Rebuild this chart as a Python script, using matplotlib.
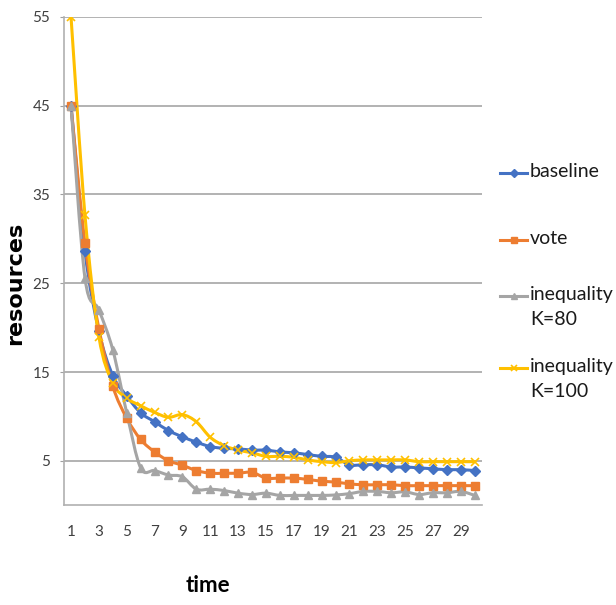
import matplotlib
matplotlib.use("Agg")
import matplotlib.pyplot as plt
from matplotlib.path import Path
from matplotlib.patches import PathPatch
from matplotlib.lines import Line2D

plt.rcParams['font.family'] = ['Lato', 'DejaVu Sans']

time = list(range(1, 31))
baseline = [45, 28.6, 19.6, 14.6, 12.3, 10.4, 9.4, 8.4, 7.7, 7.1,
            6.6, 6.4, 6.35, 6.2, 6.2, 6.0, 5.9, 5.7, 5.5, 5.4,
            4.55, 4.55, 4.55, 4.3, 4.3, 4.2, 4.1, 4.0, 4.0, 3.9]
vote = [45, 29.5, 19.9, 13.4, 9.8, 7.4, 6.0, 5.0, 4.5, 3.9,
        3.6, 3.6, 3.6, 3.7, 3.05, 3.05, 3.05, 2.9, 2.7, 2.6,
        2.4, 2.3, 2.3, 2.3, 2.2, 2.2, 2.2, 2.2, 2.2, 2.2]
ineq80 = [45, 25.6, 22.0, 17.5, 10.4, 4.2, 3.9, 3.4, 3.2, 1.8,
          1.8, 1.65, 1.35, 1.2, 1.35, 1.1, 1.1, 1.1, 1.1, 1.15,
          1.3, 1.55, 1.55, 1.4, 1.5, 1.2, 1.4, 1.4, 1.55, 1.1]
ineq100 = [55, 32.7, 19.0, 13.75, 12.05, 11.2, 10.45, 9.9, 10.2, 9.4,
           7.65, 6.7, 6.2, 5.9, 5.5, 5.5, 5.4, 5.1, 4.9, 4.8,
           5.0, 5.1, 5.1, 5.1, 5.1, 4.9, 4.9, 4.9, 4.9, 4.9]
series_labels = ["baseline", "vote", "inequality\nK=80", "inequality\nK=100"]
yticks = [5, 15, 25, 35, 45, 55]
xticks = list(range(1, 31, 2))

fig = plt.figure(figsize=(6.16, 6.05), dpi=100)
ax = fig.add_axes([0.104, 0.165, 0.678, 0.807])


def smooth_path(xs, ys):
    # Excel-style smoothed line: cubic Bezier segments through the points
    pts = list(zip(xs, ys))
    verts = [pts[0]]
    codes = [Path.MOVETO]
    n = len(pts)
    for i in range(n - 1):
        p0 = pts[i - 1] if i > 0 else pts[i]
        p1 = pts[i]
        p2 = pts[i + 1]
        p3 = pts[i + 2] if i + 2 < n else pts[i + 1]
        c1 = (p1[0] + (p2[0] - p0[0]) / 6, p1[1] + (p2[1] - p0[1]) / 6)
        c2 = (p2[0] - (p3[0] - p1[0]) / 6, p2[1] - (p3[1] - p1[1]) / 6)
        verts += [c1, c2, p2]
        codes += [Path.CURVE4] * 3
    return Path(verts, codes)


styles = [
    dict(color="#4472C4", marker="D", ms=5),
    dict(color="#ED7D31", marker="s", ms=5.5),
    dict(color="#A5A5A5", marker="^", ms=6),
    dict(color="#FFC000", marker="x", ms=5.5, mew=1.2),
]
all_series = [baseline, vote, ineq80, ineq100]
for data, st in zip(all_series, styles):
    ax.add_patch(PathPatch(smooth_path(time, data), fill=False,
                           edgecolor=st["color"], lw=2.2, capstyle="round",
                           joinstyle="round"))
    ax.plot(time, data, ls="none", mec=st["color"], mfc=st["color"],
            marker=st["marker"], ms=st["ms"], mew=st.get("mew", 1))

ax.set_xlim(0.5, 30.5)
ax.set_ylim(0, 55)
ax.set_yticks(yticks)
ax.set_xticks(xticks)
ax.tick_params(axis='x', labelsize=11, labelcolor="#404040", length=0, pad=14)
ax.tick_params(axis='y', labelsize=11, labelcolor="#404040", length=3,
               color="#A0A0A0", pad=7)
ax.grid(axis='y', color="#A6A6A6", lw=1.2)
ax.set_axisbelow(True)
for s in ["top", "right"]:
    ax.spines[s].set_visible(False)
for s in ["left", "bottom"]:
    ax.spines[s].set_color("#B0B0B0")
    ax.spines[s].set_linewidth(1.2)

fig.text(0.025, 0.532, "resources", rotation=90, ha="center", va="center",
         fontsize=16, fontweight="bold", family=["DejaVu Sans"])
fig.text(0.337, 0.033, "time", ha="center", va="center", fontsize=16,
         fontweight="bold")

# legend, drawn entry by entry
W, H = 616, 605
legend_y = [173, 240, 296, 368]
for lab, st, yy in zip(series_labels, styles, legend_y):
    yf = 1 - yy / H
    fig.add_artist(Line2D([500 / W, 527 / W], [yf, yf], color=st["color"],
                          lw=2.2, transform=fig.transFigure))
    fig.add_artist(Line2D([513.5 / W], [yf], color=st["color"], ls="none",
                          marker=st["marker"], ms=st["ms"] * 0.8,
                          mew=st.get("mew", 1), transform=fig.transFigure))
    fig.text(530 / W, yf, lab, ha="left", va="top", fontsize=14,
             linespacing=1.55, color="#1a1a1a",
             transform=fig.transFigure).set_y(yf + 10 / H)

plt.savefig("out.png", dpi=100)
